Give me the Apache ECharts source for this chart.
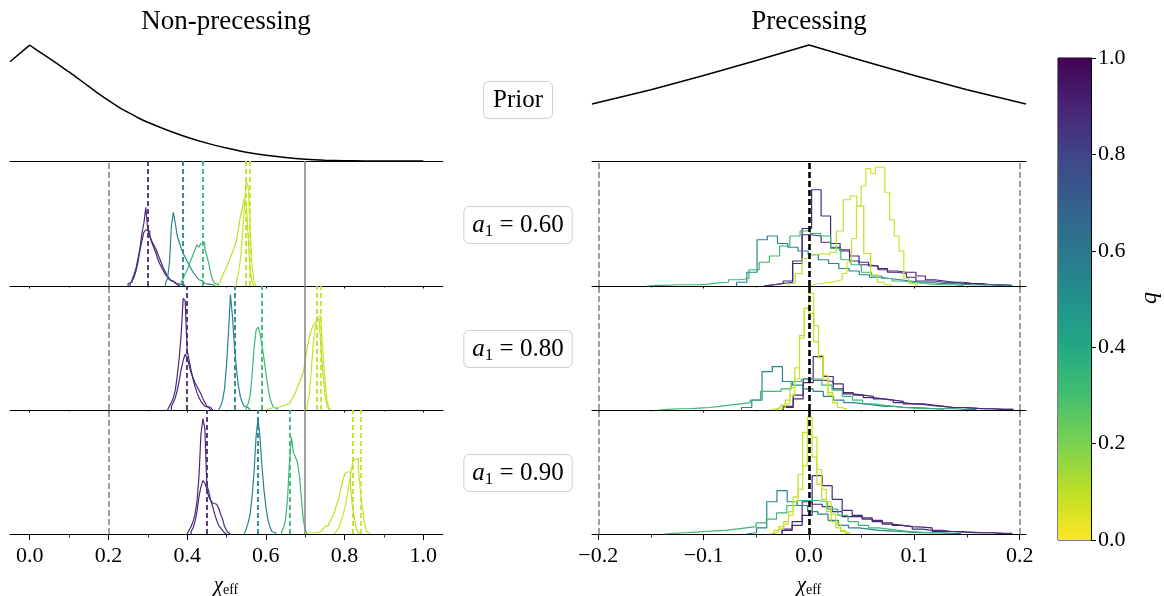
<!DOCTYPE html>
<html><head><meta charset="utf-8">
<script src="https://cdn.jsdelivr.net/npm/echarts@6/dist/echarts.min.js"></script>
<style>html,body{margin:0;padding:0;background:#fff}#c{width:1164px;height:596px}</style>
</head><body><div id="c"></div>
<script>
// ---------------- DATA ----------------
const columnTitles = ['Non-precessing', 'Precessing'];
const rowLabels = ['Prior', '0.60', '0.80', '0.90'];
const npMajor = [0.0, 0.2, 0.4, 0.6, 0.8, 1.0];
const npMinor = [0.1, 0.3, 0.5, 0.7, 0.9];
const pMajor = [-0.2, -0.1, 0.0, 0.1, 0.2];
const pMinor = [-0.15, -0.05, 0.05, 0.15];
const qTicks = [0.0, 0.2, 0.4, 0.6, 0.8, 1.0];

// prior curves (relative height)
const priorNPx = [-0.05, 0, 0.025, 0.05, 0.075, 0.1, 0.125, 0.15, 0.175, 0.2, 0.225, 0.25, 0.275, 0.3, 0.35, 0.4, 0.45, 0.5, 0.55, 0.6, 0.65, 0.7, 0.75, 0.8, 0.85, 0.9, 0.95, 1.0];
const priorNPy = [0.80, 0.935, 0.88, 0.828, 0.773, 0.718, 0.66, 0.602, 0.543, 0.488, 0.437, 0.392, 0.349, 0.312, 0.248, 0.192, 0.144, 0.105, 0.071, 0.046, 0.028, 0.015, 0.007, 0.003, 0.001, 0, 0, 0];
const priorPx = [-0.206, -0.15, -0.1, -0.05, 0, 0.05, 0.1, 0.15, 0.206];
const priorPy = [0.46, 0.575, 0.69, 0.81, 0.935, 0.81, 0.69, 0.575, 0.46];

// mass ratio of each histogram slot (a,b,c,d,e,f)
const histQ = [0.88, 0.88, 0.55, 0.33, 0.10, 0.07];
// true values (dashed lines), non-precessing
const trueQ = [0.88, 0.55, 0.33, 0.10, 0.07];
const trueNP60 = [0.299, 0.386, 0.441, 0.545, 0.558];
const trueNP80 = [0.400, 0.515, 0.589, 0.728, 0.745];
const trueNP90 = [0.449, 0.579, 0.662, 0.818, 0.840];
const npBoundDashed = 0.2;
const npBoundSolid = 0.7;
const pTrue = 0.0;
const pBounds = [-0.2, 0.2];

// histograms: start edge, bin width, counts (relative height)
const np60_a = {start: 0.25, width: 0.005, counts: [0.02,0.03,0.05,0.09,0.14,0.22,0.30,0.42,0.50,0.63,0.45,0.40,0.35,0.31,0.27,0.22,0.18,0.15,0.12,0.09,0.07,0.05,0.04,0.03,0.02,0.015,0.01,0.01,0.005]};
const np60_b = {start: 0.255, width: 0.005, counts: [0.02,0.04,0.07,0.12,0.19,0.28,0.36,0.43,0.45,0.44,0.40,0.36,0.33,0.30,0.26,0.22,0.18,0.14,0.11,0.08,0.06,0.04,0.03,0.02,0.01]};
const np60_c = {start: 0.345, width: 0.005, counts: [0.02,0.06,0.18,0.48,0.59,0.50,0.40,0.35,0.30,0.26,0.23,0.20,0.17,0.14,0.11,0.09,0.07,0.05,0.04,0.03,0.02,0.015,0.01,0.01,0.005]};
const np60_d = {start: 0.38, width: 0.005, counts: [0.01,0.03,0.06,0.10,0.13,0.17,0.21,0.25,0.29,0.33,0.31,0.34,0.35,0.30,0.24,0.18,0.10,0.05,0.02,0.01]};
const np60_e = {start: 0.47, width: 0.005, counts: [0.01,0.02,0.03,0.05,0.08,0.12,0.15,0.19,0.23,0.27,0.31,0.36,0.45,0.55,0.62,0.70,0.66,0.40,0.12,0.03]};
const np60_f = {start: 0.525, width: 0.005, counts: [0.03,0.10,0.20,0.38,0.62,0.84,0.80,0.45,0.15,0.04]};

const np80_a = {start: 0.35, width: 0.005, counts: [0.01,0.03,0.06,0.10,0.16,0.28,0.42,0.62,0.90,0.88,0.48,0.40,0.32,0.25,0.19,0.14,0.10,0.07,0.05,0.03,0.02,0.01]};
const np80_b = {start: 0.36, width: 0.005, counts: [0.03,0.06,0.10,0.16,0.24,0.33,0.40,0.45,0.42,0.36,0.30,0.26,0.22,0.19,0.16,0.13,0.09,0.06,0.03,0.02,0.01]};
const np80_c = {start: 0.48, width: 0.005, counts: [0.01,0.03,0.08,0.17,0.36,0.62,0.93,0.76,0.52,0.34,0.20,0.11,0.06,0.03,0.02,0.01]};
const np80_d = {start: 0.55, width: 0.005, counts: [0.02,0.05,0.12,0.28,0.50,0.64,0.67,0.62,0.52,0.42,0.30,0.19,0.10,0.05,0.02,0.01]};
const np80_e = {start: 0.60, width: 0.005, counts: [0.01,0.01,0.01,0.02,0.02,0.02,0.02,0.03,0.03,0.04,0.04,0.05,0.06,0.08,0.11,0.14,0.18,0.22,0.26,0.30,0.40,0.50,0.58,0.64,0.68,0.70,0.72,0.74,0.50,0.30,0.12,0.04]};
const np80_f = {start: 0.705, width: 0.005, counts: [0.03,0.12,0.30,0.52,0.66,0.75,0.76,0.72,0.45,0.25,0.08,0.02]};

const np90_a = {start: 0.40, width: 0.005, counts: [0.01,0.03,0.06,0.10,0.16,0.26,0.46,0.80,0.93,0.85,0.40,0.34,0.27,0.22,0.16,0.11,0.07,0.05,0.03,0.01]};
const np90_b = {start: 0.41, width: 0.005, counts: [0.02,0.05,0.10,0.18,0.30,0.38,0.43,0.41,0.36,0.30,0.27,0.25,0.24,0.23,0.21,0.16,0.12,0.06,0.03,0.01]};
const np90_c = {start: 0.545, width: 0.005, counts: [0.01,0.04,0.09,0.16,0.30,0.50,0.78,0.93,0.78,0.55,0.36,0.22,0.12,0.06,0.02,0.01]};
const np90_d = {start: 0.64, width: 0.005, counts: [0.02,0.05,0.12,0.28,0.58,0.78,0.66,0.62,0.58,0.48,0.30,0.12,0.03]};
const np90_e = {start: 0.70, width: 0.005, counts: [0.01,0.01,0.01,0.01,0.01,0.01,0.02,0.02,0.03,0.04,0.06,0.07,0.09,0.11,0.15,0.18,0.24,0.28,0.36,0.42,0.48,0.50,0.50,0.38,0.22,0.12,0.04,0.01]};
const np90_f = {start: 0.775, width: 0.005, counts: [0.01,0.03,0.05,0.09,0.14,0.20,0.28,0.38,0.48,0.57,0.60,0.61,0.52,0.36,0.22,0.10,0.03,0.01]};

const p60_a = {start: -0.0425, width: 0.009, counts: [0.01,0.02,0.03,0.20,0.46,0.77,0.56,0.34,0.29,0.24,0.19,0.16,0.13,0.11,0.10,0.07,0.04,0.04,0.03,0.03,0.02,0.02,0.01,0.01,0.005,0.005]};
const p60_b = {start: -0.0425, width: 0.009, counts: [0.01,0.02,0.04,0.18,0.41,0.40,0.35,0.31,0.28,0.20,0.17,0.16,0.14,0.12,0.11,0.11,0.08,0.05,0.04,0.03,0.03,0.02,0.02,0.01,0.01,0.005]};
const p60_c = {start: -0.0687, width: 0.0097, counts: [0.03,0.11,0.37,0.40,0.34,0.31,0.28,0.25,0.21,0.18,0.14,0.12,0.09,0.07,0.06,0.05,0.04,0.03,0.03,0.02,0.02,0.015,0.01,0.01,0.01,0.005,0.005]};
const p60_d = {start: -0.154, width: 0.0097, counts: [0.005,0.005,0.01,0.01,0.01,0.015,0.025,0.03,0.05,0.06,0.13,0.19,0.24,0.32,0.40,0.44,0.42,0.40,0.30,0.21,0.17,0.11,0.08,0.06,0.04,0.03,0.02,0.015,0.01,0.01,0.005]};
const p60_e = {start: -0.0195, width: 0.0065, counts: [0.02,0.10,0.22,0.25,0.26,0.25,0.27,0.44,0.69,0.72,0.64,0.26,0.09,0.03,0.01]};
const p60_f = {start: 0.0, width: 0.0045, counts: [0.01,0.02,0.02,0.03,0.03,0.04,0.05,0.10,0.19,0.38,0.64,0.80,0.94,0.90,0.95,0.95,0.75,0.53,0.40,0.28,0.06,0.02,0.005]};

const p80_a = {start: -0.0245, width: 0.0095, counts: [0.02,0.09,0.25,0.43,0.27,0.21,0.14,0.12,0.11,0.09,0.08,0.06,0.05,0.045,0.035,0.03,0.02,0.02,0.015,0.01,0.01,0.005,0.005]};
const p80_b = {start: -0.0245, width: 0.0095, counts: [0.03,0.12,0.22,0.24,0.23,0.17,0.13,0.12,0.10,0.09,0.08,0.07,0.05,0.05,0.04,0.03,0.02,0.02,0.015,0.01,0.01,0.005,0.005]};
const p80_c = {start: -0.064, width: 0.0097, counts: [0.02,0.08,0.31,0.35,0.23,0.20,0.17,0.15,0.11,0.08,0.06,0.05,0.04,0.03,0.03,0.02,0.02,0.015,0.01,0.01,0.01,0.005,0.005]};
const p80_d = {start: -0.143, width: 0.0097, counts: [0.005,0.01,0.01,0.015,0.02,0.03,0.04,0.05,0.06,0.08,0.15,0.15,0.17,0.23,0.25,0.25,0.20,0.16,0.11,0.08,0.05,0.04,0.03,0.02,0.015,0.01,0.01,0.005]};
const p80_e = {start: -0.036, width: 0.0045, counts: [0.01,0.02,0.04,0.08,0.18,0.34,0.60,0.82,0.78,0.55,0.44,0.28,0.14,0.06,0.02,0.005]};
const p80_f = {start: -0.0315, width: 0.0045, counts: [0.01,0.02,0.05,0.12,0.25,0.58,0.82,0.94,0.68,0.42,0.25,0.12,0.06,0.02,0.005]};

const p90_a = {start: -0.0255, width: 0.0095, counts: [0.03,0.07,0.15,0.47,0.39,0.28,0.19,0.15,0.13,0.11,0.09,0.07,0.06,0.055,0.05,0.02,0.02,0.015,0.015,0.01,0.01,0.005,0.005]};
const p90_b = {start: -0.0255, width: 0.0095, counts: [0.04,0.10,0.26,0.24,0.22,0.18,0.14,0.14,0.12,0.10,0.08,0.07,0.06,0.04,0.03,0.03,0.02,0.02,0.01,0.01,0.01,0.005]};
const p90_c = {start: -0.0595, width: 0.0097, counts: [0.01,0.05,0.26,0.35,0.26,0.23,0.18,0.16,0.11,0.07,0.05,0.04,0.03,0.025,0.02,0.015,0.01,0.01,0.01,0.005,0.005]};
const p90_d = {start: -0.1375, width: 0.0097, counts: [0.005,0.01,0.015,0.02,0.025,0.03,0.04,0.05,0.06,0.09,0.12,0.17,0.23,0.27,0.27,0.26,0.20,0.15,0.10,0.07,0.05,0.04,0.03,0.02,0.015,0.01,0.01,0.005]};
const p90_e = {start: -0.0375, width: 0.0045, counts: [0.01,0.03,0.06,0.10,0.18,0.30,0.48,0.82,0.80,0.62,0.40,0.28,0.18,0.10,0.05,0.02,0.005]};
const p90_f = {start: -0.0375, width: 0.0045, counts: [0.005,0.02,0.04,0.08,0.15,0.26,0.36,0.55,0.94,0.78,0.52,0.36,0.26,0.16,0.08,0.03,0.005]};

const npRows = [[np60_a,np60_b,np60_c,np60_d,np60_e,np60_f],[np80_a,np80_b,np80_c,np80_d,np80_e,np80_f],[np90_a,np90_b,np90_c,np90_d,np90_e,np90_f]];
const pRows = [[p60_a,p60_b,p60_c,p60_d,p60_e,p60_f],[p80_a,p80_b,p80_c,p80_d,p80_e,p80_f],[p90_a,p90_b,p90_c,p90_d,p90_e,p90_f]];
const npTrues = [trueNP60, trueNP80, trueNP90];

// ---------------- STYLE / BUILD ----------------
const F = "'Liberation Serif','DejaVu Serif',serif";
const VIRIDIS = ['#440154','#482475','#414487','#355f8d','#2a788e','#21918c','#22a884','#44bf70','#7ad151','#bddf26','#fde725'];
function hexRgb(h){return [1,3,5].map(i=>parseInt(h.slice(i,i+2),16));}
function qColor(q){
  const s=(1-q)*10, i=Math.min(9,Math.floor(s)), f=s-i;
  const a=hexRgb(VIRIDIS[i]), b=hexRgb(VIRIDIS[i+1]);
  return 'rgb('+a.map((v,k)=>Math.round(v+(b[k]-v)*f)).join(',')+')';
}
function stepData(h){
  const n=h.counts.length, d=[[h.start,0]];
  h.counts.forEach((c,i)=>d.push([h.start+i*h.width,c]));
  d.push([h.start+n*h.width,h.counts[n-1]]);
  d.push([h.start+n*h.width,0]);
  return d;
}
function fmt(v){return (v<-1e-9?'\u2212':'')+Math.abs(v).toFixed(1);}

const grids=[], xAxis=[], yAxis=[], series=[];
const tops=[37,161,286,410], hts=[124,125,124,124];
const SIDES={
  np:{left:10,width:433,min:-0.05,max:1.05,major:npMajor,minor:npMinor},
  p:{left:592,width:434,min:-0.206,max:0.206,major:pMajor,minor:pMinor}
};
function addPanel(side,row){
  const gi=grids.length, bottom=row===3;
  grids.push({left:side.left,width:side.width,top:tops[row],height:hts[row]});
  xAxis.push({type:'value',gridIndex:gi,position:'bottom',min:side.min,max:side.max,
    axisLine:{show:true,onZero:false,lineStyle:{color:'#000',width:1}},
    axisTick:{show:row>0,customValues:side.major,length:bottom?6:2.5,lineStyle:{color:'#000',width:1}},
    axisLabel:{show:bottom,customValues:side.major,formatter:fmt,fontFamily:F,fontSize:22,color:'#000',margin:11},
    splitLine:{show:false}});
  xAxis.push({type:'value',gridIndex:gi,position:'bottom',min:side.min,max:side.max,
    axisLine:{show:false},
    axisTick:{show:row>0,customValues:side.minor,length:bottom?3.5:1.5,lineStyle:{color:'#000',width:0.8}},
    axisLabel:{show:false},splitLine:{show:false}});
  yAxis.push({type:'value',gridIndex:gi,min:0,max:1,show:false});
  return {xi:2*gi,yi:gi,side};
}
function addLine(p,data,color,width,step,smooth){
  series.push({type:'line',xAxisIndex:p.xi,yAxisIndex:p.yi,data,step:step||false,smooth:smooth||false,symbol:'none',showSymbol:false,silent:true,z:2,
    lineStyle:{color,width},itemStyle:{color}});
}
function addMarks(p,items){
  series.push({type:'line',xAxisIndex:p.xi,yAxisIndex:p.yi,data:[[p.side.min,0]],symbol:'none',silent:true,z:4,
    lineStyle:{width:0},
    markLine:{symbol:['none','none'],silent:true,animation:false,label:{show:false},
      data:items.map(it=>({xAxis:it.x,lineStyle:it.style}))}});
}

// prior rows
const pnp=addPanel(SIDES.np,0);
const priorNPpts=priorNPx.map((x,i)=>[x,priorNPy[i]]);
addLine(pnp,priorNPpts.slice(0,2),'#000',1.5);
addLine(pnp,priorNPpts.slice(1),'#000',1.5,false,0.25);
const pp=addPanel(SIDES.p,0);
const npPanels=[1,2,3].map(r=>addPanel(SIDES.np,r));
const pPanels=[1,2,3].map(r=>addPanel(SIDES.p,r));
addLine(pp,priorPx.map((x,i)=>[x,priorPy[i]]),'#000',1.5);

const greyDash={color:'#8a8a8a',type:[6,3],width:1.6};
npPanels.forEach((p,r)=>{
  npRows[r].forEach((h,k)=>addLine(p,stepData(h),qColor(histQ[k]),1.2,'end'));
  const items=[{x:npBoundDashed,style:greyDash},{x:npBoundSolid,style:{color:'#8a8a8a',type:'solid',width:1.6}}];
  npTrues[r].forEach((x,k)=>items.push({x,style:{color:qColor(trueQ[k]),type:[5,3],width:1.8}}));
  addMarks(p,items);
});
pPanels.forEach((p,r)=>{
  pRows[r].forEach((h,k)=>addLine(p,stepData(h),qColor(histQ[k]),1.2,'end'));
  const items=pBounds.map(x=>({x,style:greyDash}));
  items.push({x:pTrue,style:{color:'#000',type:[6,3],width:2.6}});
  addMarks(p,items);
});

// colorbar
const cbGrid=grids.length;
grids.push({left:1058,top:58,width:33,height:482,show:true,borderColor:'#000',borderWidth:1,backgroundColor:'transparent'});
xAxis.push({type:'category',gridIndex:cbGrid,data:['q'],show:false});
yAxis.push({type:'value',gridIndex:cbGrid,min:0,max:1,position:'right',
  axisLine:{show:true,lineStyle:{color:'#000',width:1}},
  axisTick:{show:true,customValues:qTicks,length:5,lineStyle:{color:'#000'}},
  axisLabel:{customValues:qTicks,formatter:v=>v.toFixed(1),fontFamily:F,fontSize:22,color:'#000',margin:7},
  splitLine:{show:false}});
series.push({type:'bar',xAxisIndex:xAxis.length-1,yAxisIndex:yAxis.length-1,data:[1],barWidth:'100%',silent:true,
  itemStyle:{color:new echarts.graphic.LinearGradient(0,0,0,1,VIRIDIS.map((c,i)=>({offset:i/10,color:c})))}});

// text
const boxStyle={backgroundColor:'#fff',borderColor:'#cfcfcf',borderWidth:1,borderRadius:5};
const richA={
  i:{fontFamily:F,fontStyle:'italic',fontSize:25,lineHeight:30,fill:'#000'},
  s:{fontFamily:F,fontSize:17,lineHeight:16,verticalAlign:'bottom',fill:'#000'},
  n:{fontFamily:F,fontSize:25,lineHeight:30,fill:'#000'}
};
const labelY=[100,225,349,473];
const graphic=[
  {type:'text',x:226,y:22,style:{text:columnTitles[0],fontFamily:F,fontSize:27,fill:'#000',align:'center',verticalAlign:'middle'}},
  {type:'text',x:809,y:22,style:{text:columnTitles[1],fontFamily:F,fontSize:27,fill:'#000',align:'center',verticalAlign:'middle'}},
  {type:'text',x:518,y:labelY[0],style:Object.assign({text:rowLabels[0],fontFamily:F,fontSize:25,lineHeight:30,fill:'#000',align:'center',verticalAlign:'middle',padding:[3,9]},boxStyle)},
  {type:'text',x:1150,y:298,rotation:Math.PI/2,style:{text:'q',fontFamily:F,fontStyle:'italic',fontSize:24,fill:'#000',align:'center',verticalAlign:'middle'}}
];
[1,2,3].forEach(r=>graphic.push({type:'text',x:518,y:labelY[r],
  style:Object.assign({text:'{i|a}{s|1}{n| = '+rowLabels[r]+'}',rich:richA,align:'center',verticalAlign:'middle',padding:[3,8]},boxStyle)}));
const richX={c:{fontFamily:F,fontStyle:'italic',fontSize:21,lineHeight:24,fill:'#000'},e:{fontFamily:F,fontSize:14,lineHeight:15,verticalAlign:'bottom',fill:'#000'}};
[226,809].forEach(x=>graphic.push({type:'text',x,y:585,style:{text:'{c|\u03c7}{e|eff}',rich:richX,align:'center',verticalAlign:'middle'}}));

const chart=echarts.init(document.getElementById('c'));
chart.setOption({animation:false,backgroundColor:'#fff',grid:grids,xAxis,yAxis,series,graphic});
</script></body></html>
